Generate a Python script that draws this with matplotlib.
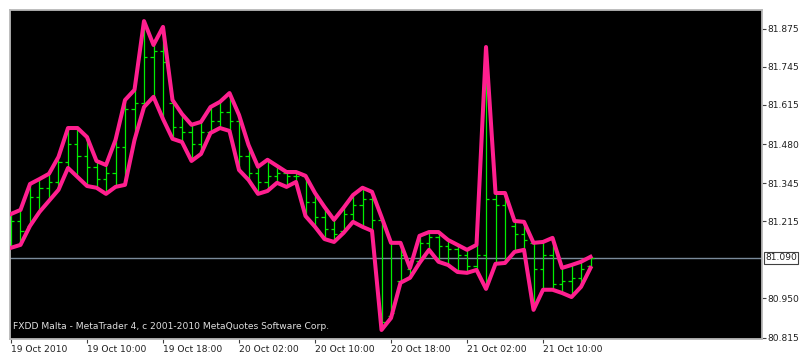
import matplotlib
matplotlib.use("Agg")
import matplotlib.pyplot as plt

# ---- data (hourly bars, 19 Oct 2010 02:00 .. 21 Oct 2010 15:00) ----
highs = [81.240, 81.254, 81.343, 81.360, 81.378, 81.436, 81.535, 81.535, 81.504, 81.422,
         81.408, 81.494, 81.631, 81.666, 81.902, 81.820, 81.882, 81.631, 81.583, 81.546,
         81.556, 81.607, 81.625, 81.655, 81.580, 81.477, 81.402, 81.426, 81.405, 81.384,
         81.384, 81.371, 81.312, 81.264, 81.220, 81.261, 81.305, 81.330, 81.316, 81.230,
         81.141, 81.141, 81.055, 81.165, 81.178, 81.178, 81.151, 81.134, 81.117, 81.134,
         81.813, 81.312, 81.312, 81.216, 81.213, 81.141, 81.144, 81.158, 81.055, 81.065,
         81.076, 81.093]
lows = [81.124, 81.134, 81.199, 81.247, 81.285, 81.323, 81.398, 81.367, 81.336, 81.330,
        81.309, 81.333, 81.340, 81.494, 81.607, 81.642, 81.566, 81.498, 81.487, 81.422,
        81.446, 81.518, 81.535, 81.525, 81.391, 81.357, 81.309, 81.319, 81.347, 81.333,
        81.350, 81.233, 81.196, 81.154, 81.144, 81.175, 81.213, 81.196, 81.182, 80.842,
        80.883, 81.004, 81.021, 81.072, 81.117, 81.076, 81.065, 81.041, 81.038, 81.048,
        80.983, 81.069, 81.072, 81.110, 81.117, 80.911, 80.980, 80.980, 80.969, 80.955,
        80.990, 81.055]
opens = [81.150, 81.215, 81.200, 81.300, 81.330, 81.350, 81.420, 81.480, 81.440, 81.400,
         81.360, 81.380, 81.470, 81.600, 81.620, 81.780, 81.800, 81.620, 81.540, 81.520,
         81.480, 81.520, 81.560, 81.590, 81.560, 81.440, 81.380, 81.350, 81.370, 81.380,
         81.370, 81.370, 81.280, 81.230, 81.190, 81.180, 81.240, 81.270, 81.290, 81.220,
         80.890, 81.010, 81.050, 81.080, 81.140, 81.160, 81.130, 81.120, 81.100, 81.060,
         81.100, 81.290, 81.270, 81.200, 81.170, 81.140, 81.050, 81.100, 81.000, 81.010,
         81.020, 81.060]
closes = [81.215, 81.180, 81.300, 81.330, 81.350, 81.420, 81.480, 81.440, 81.400, 81.360,
          81.380, 81.470, 81.600, 81.620, 81.780, 81.800, 81.760, 81.540, 81.520, 81.480,
          81.520, 81.560, 81.590, 81.560, 81.440, 81.380, 81.350, 81.370, 81.380, 81.370,
          81.370, 81.280, 81.230, 81.190, 81.170, 81.240, 81.270, 81.290, 81.220, 80.870,
          80.900, 81.100, 81.040, 81.140, 81.160, 81.130, 81.120, 81.100, 81.060, 81.100,
          81.290, 81.270, 81.290, 81.170, 81.150, 81.050, 81.100, 81.000, 81.010, 81.020,
          81.050, 81.090]

price_ticks = [81.875, 81.745, 81.615, 81.480, 81.345, 81.215, 80.950, 80.815]
price_labels = ["81.875", "81.745", "81.615", "81.480", "81.345", "81.215", "80.950", "80.815"]
current_price = 81.090
current_label = "81.090"

time_tick_bars = [0, 8, 16, 24, 32, 40, 48, 56]
time_labels = ["19 Oct 2010", "19 Oct 10:00", "19 Oct 18:00", "20 Oct 02:00",
               "20 Oct 10:00", "20 Oct 18:00", "21 Oct 02:00", "21 Oct 10:00"]
copyright_text = "FXDD Malta - MetaTrader 4, c 2001-2010 MetaQuotes Software Corp."

# ---- figure ----
W, H = 803, 357
fig = plt.figure(figsize=(W / 100, H / 100), dpi=100)
fig.patch.set_facecolor("white")
L, R, T, B = 10, 762, 10, 339
ax = fig.add_axes([L / W, 1 - B / H, (R - L) / W, (B - T) / H])
ax.set_facecolor("black")

n = len(highs)
xs = list(range(n))

pink = "#ff1f8f"
green = "#00ee00"

ax.axhline(current_price, color="#7a8a9a", lw=1.0, zorder=1)
ax.vlines(xs, lows, highs, color=green, lw=0.9, zorder=2)
ax.hlines(opens, [x - 0.33 for x in xs], xs, color=green, lw=0.9, zorder=2)
ax.hlines(closes, xs, [x + 0.33 for x in xs], color=green, lw=0.9, zorder=2)
ax.plot(xs, highs, color=pink, lw=2.9, solid_joinstyle="round", zorder=3)
ax.plot(xs, lows, color=pink, lw=2.9, solid_joinstyle="round", zorder=3)

ax.set_xlim(-0.105, 79.05)
ax.set_ylim(80.811, 81.940)

for s in ax.spines.values():
    s.set_color("#b8b8b8")
    s.set_linewidth(1.3)

ax.yaxis.tick_right()
ax.set_yticks(price_ticks)
ax.set_yticklabels(price_labels)
ax.tick_params(axis="y", direction="out", length=3, width=0.8, color="#404040",
               labelsize=6.6, labelcolor="#202020", pad=1)
ax.set_xticks(time_tick_bars)
ax.set_xticklabels(time_labels, ha="left")
ax.tick_params(axis="x", direction="out", length=3, width=0.8, color="#404040",
               labelsize=6.6, labelcolor="#202020", pad=1)
for lab in ax.get_xticklabels():
    lab.set_x(lab.get_position()[0])

ax.text(1.0 + 3 / (R - L), current_price, current_label, transform=ax.get_yaxis_transform(),
        va="center", ha="left", fontsize=6.6, color="#202020",
        bbox=dict(boxstyle="square,pad=0.15", fc="white", ec="#404040", lw=0.8))

ax.text(0.004, 0.025, copyright_text, transform=ax.transAxes, color="#e0e0e0",
        fontsize=6.6, ha="left", va="bottom")

fig.savefig("out.png", dpi=100, facecolor="white")
